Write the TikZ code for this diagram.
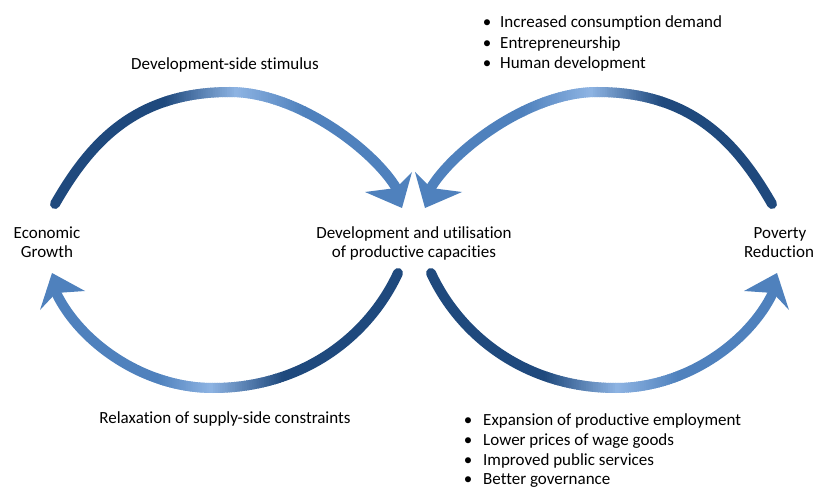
\documentclass[tikz,border=0pt]{standalone}
\usepackage{fontspec}
\setmainfont[Ligatures={NoCommon}]{Carlito}
\definecolor{dkblue}{HTML}{1F497D}
\definecolor{ltblue}{HTML}{8EB4E3}
\definecolor{mdblue}{HTML}{4F81BD}
\tikzset{
  shaft/.style={line width=10pt, line cap=round},
  headfill/.style={fill=mdblue, draw=none},
  lbl/.style={font=\fontsize{17}{19}\selectfont, inner sep=0pt, text=black}
}
% one colour band of a shaft: strips between x=#2 and x=#3, colour #4 -> #5
\newcommand\gradseg[5]{%
  \foreach \k in {0,...,29}{%
    \pgfmathsetmacro\xl{#2+(#3-#2)*\k/30}%
    \pgfmathsetmacro\xr{#2+(#3-#2)*(\k+1)/30}%
    \pgfmathsetmacro\xmin{min(\xl,\xr)-0.5}%
    \pgfmathsetmacro\xmax{max(\xl,\xr)+0.5}%
    \pgfmathtruncatemacro\pc{100-100*(\k+0.5)/30}%
    \begin{scope}
      \clip (\xmin,-20) rectangle (\xmax,520);
      \draw[shaft, draw=#4!\pc!#5] #1;
    \end{scope}
  }%
}
% whole shaft: dark beyond #3 (towards #2), dark->light to #4, light->mid to #5, mid beyond (towards #6)
\newcommand\gradarc[6]{%
  \begin{scope}
    \clip (#2,-20) rectangle (#3,520);
    \draw[shaft, draw=dkblue] #1;
  \end{scope}
  \gradseg{#1}{#3}{#4}{dkblue}{ltblue}%
  \gradseg{#1}{#4}{#5}{ltblue}{mdblue}%
  \begin{scope}
    \clip (#5,-20) rectangle (#6,520);
    \draw[shaft, draw=mdblue] #1;
  \end{scope}
}
\begin{document}
\begin{tikzpicture}[x=1pt, y=-1pt]
\useasboundingbox (0,0) rectangle (814,489);

% labels
\node[lbl, anchor=base] (eg1) at (47,238.3) {Economic};
\node[lbl, anchor=base] (eg2) at (47,257.3) {Growth};
\node[lbl, anchor=base] (dv1) at (414,238.3) {Development and utilisation};
\node[lbl, anchor=base] (dv2) at (414,257.3) {of productive capacities};
\node[lbl, anchor=base] (pr1) at (780,238.3) {Poverty};
\node[lbl, anchor=base] (pr2) at (779,257.3) {Reduction};
\node[lbl, anchor=base] (ds) at (225,70) {Development-side stimulus};
\node[lbl, anchor=base] (rx) at (225,423.3) {Relaxation of supply-side constraints};

% top bullet list
\node[lbl, anchor=base] (tb1) at (487,27.3) {•};
\node[lbl, anchor=base west] (tt1) at (500,27.3) {Increased consumption demand};
\node[lbl, anchor=base] (tb2) at (487,48.3) {•};
\node[lbl, anchor=base west] (tt2) at (500,48.3) {Entrepreneurship};
\node[lbl, anchor=base] (tb3) at (487,69) {•};
\node[lbl, anchor=base west] (tt3) at (500,69) {Human development};

% bottom bullet list
\node[lbl, anchor=base] (bb1) at (468,425) {•};
\node[lbl, anchor=base west] (bt1) at (483,425) {Expansion of productive employment};
\node[lbl, anchor=base] (bb2) at (468,445.3) {•};
\node[lbl, anchor=base west] (bt2) at (483,445.3) {Lower prices of wage goods};
\node[lbl, anchor=base] (bb3) at (468,465) {•};
\node[lbl, anchor=base west] (bt3) at (483,465) {Improved public services};
\node[lbl, anchor=base] (bb4) at (468,484.3) {•};
\node[lbl, anchor=base west] (bt4) at (483,484.3) {Better governance};

% arrow coordinates
\coordinate (tlS) at (55,204);  \coordinate (tlM) at (230,92);  \coordinate (tlE) at (399,193);
\coordinate (trS) at (772,204); \coordinate (trM) at (597,92);  \coordinate (trE) at (428,193);
\coordinate (blS) at (398,273); \coordinate (blM) at (213,388); \coordinate (blE) at (54,288);
\coordinate (brS) at (431,273); \coordinate (brM) at (616,388); \coordinate (brE) at (775,288);

\def\pathTL{(tlS) .. controls (90,143) and (135,92) .. (tlM) .. controls (300,92) and (380,155) .. (tlE)}
\def\pathTR{(trS) .. controls (737,143) and (692,92) .. (trM) .. controls (527,92) and (447,155) .. (trE)}
\def\pathBL{(blS) .. controls (369,336) and (303,388) .. (blM) .. controls (140,388) and (75,338) .. (blE)}
\def\pathBR{(brS) .. controls (460,336) and (526,388) .. (brM) .. controls (689,388) and (754,338) .. (brE)}

\gradarc{\pathTL}{-20}{165}{237}{305}{840}
\gradarc{\pathTR}{840}{662}{590}{522}{-20}
\gradarc{\pathBL}{840}{283}{210}{157}{-20}
\gradarc{\pathBR}{-20}{545}{618}{680}{840}

% arrow heads
\fill[headfill] (402,208) -- (365,192) -- (396,188) -- (412,172) -- cycle;
\fill[headfill] (425,208) -- (462,192) -- (431,188) -- (415,172) -- cycle;
\fill[headfill] (52,273) -- (40,310) -- (56,293) -- (85,291) -- cycle;
\fill[headfill] (777,273) -- (789,310) -- (773,293) -- (744,291) -- cycle;
\end{tikzpicture}
\end{document}
